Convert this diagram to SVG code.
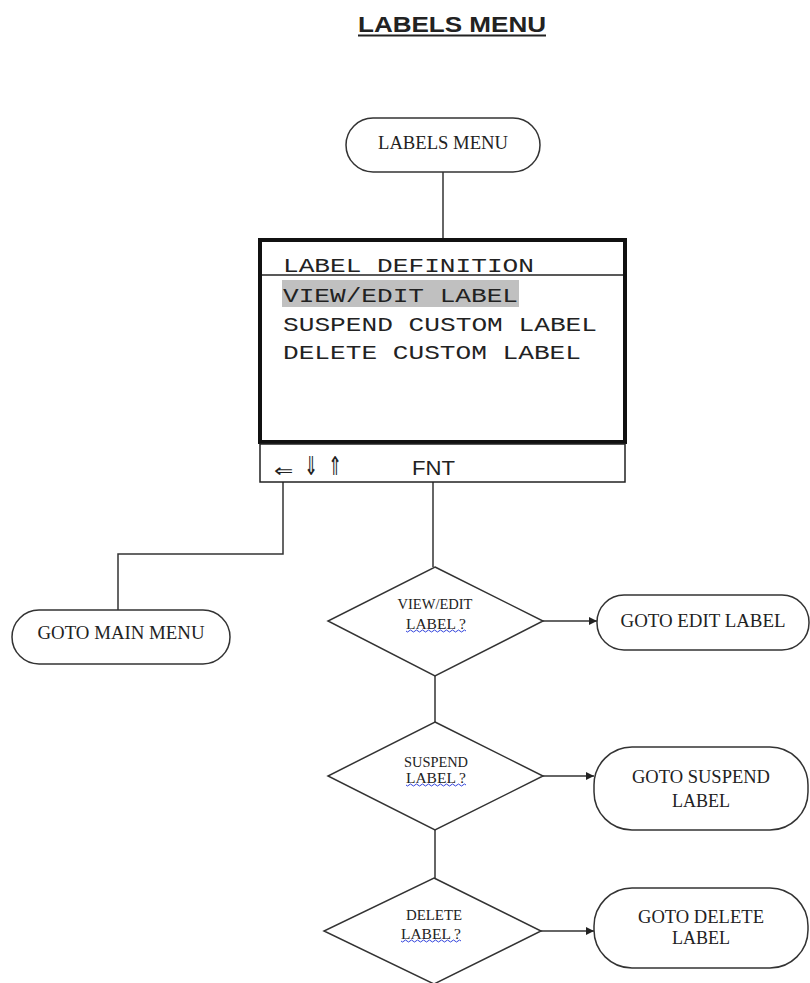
<svg xmlns="http://www.w3.org/2000/svg" width="810" height="983" viewBox="0 0 810 983">
  <style>
    .term { fill: #fff; stroke: #333; stroke-width: 1.5; }
    .dia { fill: #fff; stroke: #333; stroke-width: 1.5; }
    .ser { font-family: "Liberation Serif", "Times New Roman", serif; fill: #222; text-anchor: middle; }
    .lbl { font-size: 18px; }
    .small { font-size: 14px; }
    .mono { font-family: "Courier New", "Nimbus Mono PS", "FreeMono", "Liberation Mono", monospace; font-size: 21px; fill: #222; }
    .wire { fill: none; stroke: #333; stroke-width: 1.5; }
    .wavy { fill: none; stroke: #3344dd; stroke-width: 1; }
    .sym { font-family: "DejaVu Sans", sans-serif; fill: #222; font-size: 20px; }
  </style>
  <defs>
    <marker id="arrow" viewBox="0 0 10 10" refX="10" refY="5" markerWidth="8" markerHeight="8" orient="auto" markerUnits="userSpaceOnUse">
      <path d="M0,0 L10,5 L0,10 z" fill="#222"/>
    </marker>
  </defs>
  <rect width="810" height="983" fill="#fff"/>

  <!-- page heading -->
  <g id="heading">
    <text x="358" y="32" font-family="Liberation Sans, Arial, sans-serif" font-weight="bold" font-size="22" fill="#222" textLength="188" lengthAdjust="spacingAndGlyphs">LABELS MENU</text>
    <line x1="358" y1="35.5" x2="546" y2="35.5" stroke="#222" stroke-width="2"/>
  </g>

  <!-- connectors -->
  <g id="connectors">
    <line class="wire" x1="443" y1="172" x2="443" y2="238"/>
    <polyline class="wire" points="283,482 283,554 118,554 118,611"/>
    <line class="wire" x1="433" y1="482" x2="433" y2="567"/>
    <line class="wire" x1="435" y1="676" x2="435" y2="722"/>
    <line class="wire" x1="435" y1="830" x2="435" y2="878"/>
    <line class="wire" x1="543" y1="621" x2="597" y2="621" marker-end="url(#arrow)"/>
    <line class="wire" x1="543" y1="776" x2="594" y2="776" marker-end="url(#arrow)"/>
    <line class="wire" x1="541" y1="931" x2="594" y2="931" marker-end="url(#arrow)"/>
  </g>

  <!-- start terminal -->
  <g id="labels-menu">
    <rect class="term" x="346" y="118" width="194" height="54" rx="27"/>
    <text class="ser lbl" x="443" y="149" textLength="130" lengthAdjust="spacingAndGlyphs">LABELS MENU</text>
  </g>

  <!-- display screen -->
  <g id="screen">
    <rect x="260" y="240" width="365" height="202" fill="#fff" stroke="#111" stroke-width="4"/>
    <line x1="262" y1="275" x2="623" y2="275" stroke="#222" stroke-width="1.5"/>
    <rect x="282" y="280" width="237" height="27" fill="#c0c0c0"/>
    <text class="mono" x="283" y="272" textLength="251" lengthAdjust="spacingAndGlyphs">LABEL DEFINITION</text>
    <text class="mono" x="283" y="302" textLength="235" lengthAdjust="spacingAndGlyphs">VIEW/EDIT LABEL</text>
    <text class="mono" x="283" y="331" textLength="314" lengthAdjust="spacingAndGlyphs">SUSPEND CUSTOM LABEL</text>
    <text class="mono" x="283" y="359" textLength="298" lengthAdjust="spacingAndGlyphs">DELETE CUSTOM LABEL</text>
  </g>

  <!-- soft key bar -->
  <g id="keybar">
    <rect x="260" y="444" width="365" height="38" fill="#fff" stroke="#222" stroke-width="1.5"/>
    <text class="sym" transform="translate(274,477) scale(1.15,0.9)">⇐</text>
    <text class="sym" transform="translate(304,475) scale(0.85,1.3)">⇓</text>
    <text class="sym" transform="translate(328,475) scale(0.85,1.3)">⇑</text>
    <text x="412" y="475" font-family="Liberation Sans, Arial, sans-serif" font-size="20" fill="#222" textLength="43" lengthAdjust="spacingAndGlyphs">FNT</text>
  </g>

  <!-- exit terminal -->
  <g id="goto-main-menu">
    <rect class="term" x="12" y="610" width="218" height="54" rx="27"/>
    <text class="ser lbl" x="121" y="639" textLength="167" lengthAdjust="spacingAndGlyphs">GOTO MAIN MENU</text>
  </g>

  <!-- decision: view/edit -->
  <g id="dec-view-edit">
    <polygon class="dia" points="435,567 543,621 435,676 328,621"/>
    <text class="ser small" x="435" y="609" textLength="75" lengthAdjust="spacingAndGlyphs">VIEW/EDIT</text>
    <text class="ser small" x="436" y="629" textLength="60" lengthAdjust="spacingAndGlyphs">LABEL ?</text>
    <path class="wavy" d="M406,631 q1.5,2 3,0 t3,0 t3,0 t3,0 t3,0 t3,0 t3,0 t3,0 t3,0 t3,0 t3,0 t3,0 t3,0 t3,0 t3,0 t3,0 t3,0 t3,0 t3,0 t3,0"/>
  </g>
  <g id="goto-edit-label">
    <rect class="term" x="597" y="595" width="212" height="55" rx="27"/>
    <text class="ser lbl" x="703" y="627" textLength="165" lengthAdjust="spacingAndGlyphs">GOTO EDIT LABEL</text>
  </g>

  <!-- decision: suspend -->
  <g id="dec-suspend">
    <polygon class="dia" points="435,722 543,776 435,830 328,776"/>
    <text class="ser small" x="436" y="767" textLength="64" lengthAdjust="spacingAndGlyphs">SUSPEND</text>
    <text class="ser small" x="436" y="783" textLength="60" lengthAdjust="spacingAndGlyphs">LABEL ?</text>
    <path class="wavy" d="M406,785 q1.5,2 3,0 t3,0 t3,0 t3,0 t3,0 t3,0 t3,0 t3,0 t3,0 t3,0 t3,0 t3,0 t3,0 t3,0 t3,0 t3,0 t3,0 t3,0 t3,0 t3,0"/>
  </g>
  <g id="goto-suspend-label">
    <rect class="term" x="594" y="747" width="214" height="83" rx="38"/>
    <text class="ser lbl" x="701" y="783" textLength="138" lengthAdjust="spacingAndGlyphs">GOTO SUSPEND</text>
    <text class="ser lbl" x="701" y="807" textLength="58" lengthAdjust="spacingAndGlyphs">LABEL</text>
  </g>

  <!-- decision: delete -->
  <g id="dec-delete">
    <polygon class="dia" points="434,878 541,931 434,984 324,931"/>
    <text class="ser small" x="434" y="920" textLength="56" lengthAdjust="spacingAndGlyphs">DELETE</text>
    <text class="ser small" x="431" y="939" textLength="60" lengthAdjust="spacingAndGlyphs">LABEL ?</text>
    <path class="wavy" d="M401,941 q1.5,2 3,0 t3,0 t3,0 t3,0 t3,0 t3,0 t3,0 t3,0 t3,0 t3,0 t3,0 t3,0 t3,0 t3,0 t3,0 t3,0 t3,0 t3,0 t3,0 t3,0"/>
  </g>
  <g id="goto-delete-label">
    <rect class="term" x="594" y="888" width="214" height="80" rx="38"/>
    <text class="ser lbl" x="701" y="923" textLength="126" lengthAdjust="spacingAndGlyphs">GOTO DELETE</text>
    <text class="ser lbl" x="701" y="944" textLength="58" lengthAdjust="spacingAndGlyphs">LABEL</text>
  </g>
</svg>
